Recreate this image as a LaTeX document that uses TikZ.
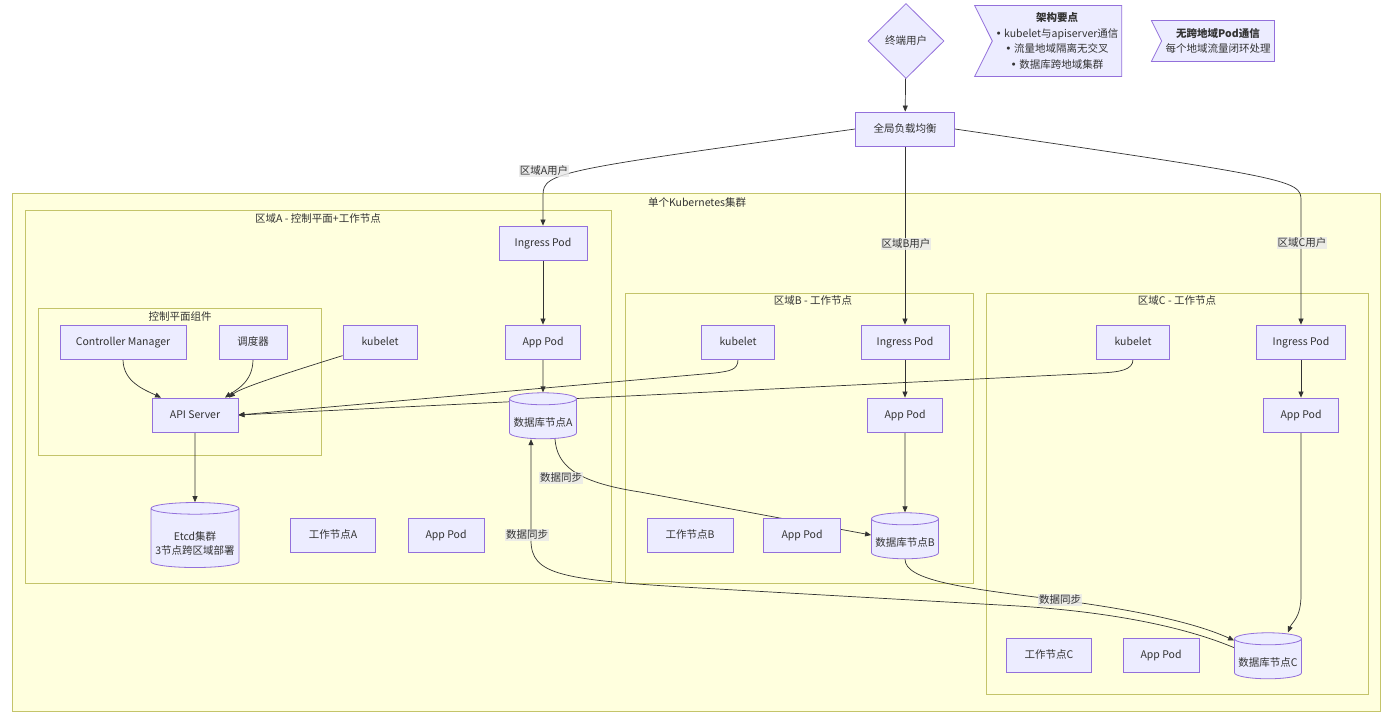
\documentclass[tikz,border=0pt]{standalone}
\usepackage{fontspec}
\setmainfont{Noto Sans CJK SC}
\newfontfamily\bulletfont{DejaVu Sans}
\newcommand{\notebullet}{{\bulletfont •}}
\usetikzlibrary{arrows.meta,shapes.geometric,shapes.symbols}
\definecolor{nodefill}{HTML}{ECECFF}
\definecolor{nodeline}{HTML}{9370DB}
\definecolor{clusterfill}{HTML}{FFFFDE}
\definecolor{clusterline}{HTML}{C4C46A}
\definecolor{inkgray}{HTML}{333333}
\definecolor{lblfill}{HTML}{E8E8E8}
\pgfdeclarelayer{bg}
\pgfdeclarelayer{edges}
\pgfsetlayers{bg,edges,main}

\begin{document}
\begin{tikzpicture}[x=1pt,y=-1pt,
  every node/.style={font=\fontsize{10.5}{13}\selectfont,text=inkgray},
  box/.style={rectangle,draw=nodeline,fill=nodefill,line width=0.8pt,minimum height=34pt,minimum width=#1,inner sep=2pt,text height=8pt,text depth=1pt},
  db/.style={cylinder,shape border rotate=90,aspect=0.19,draw=nodeline,fill=nodefill,line width=0.8pt,minimum width=67pt,minimum height=46pt,inner sep=2pt,align=center,text height=14.5pt,text depth=1pt},
  note/.style={signal,signal from=west,signal to=nowhere,signal pointer angle=127,draw=nodeline,fill=nodefill,line width=0.8pt,align=center,font=\fontsize{10.5}{15.5}\selectfont},
  cluster/.style={draw=clusterline,fill=clusterfill,line width=0.8pt},
  link/.style={draw=inkgray,line width=0.7pt,-{Triangle[length=6pt,width=5pt]}},
  lbl/.style={fill=lblfill,fill opacity=0.8,text opacity=1,inner sep=1pt}]
  \useasboundingbox (0,0) rectangle (1384,721);

  \begin{pgfonlayer}{bg}
    \fill[white] (0,0) rectangle (1384,721);
    \draw[cluster] (12,193) rectangle (1380,711);
    \draw[cluster] (25,210) rectangle (611,583);
    \draw[cluster] (38,308) rectangle (321,455);
    \draw[cluster] (625,293) rectangle (973,583);
    \draw[cluster] (986,293) rectangle (1368,694);
  \end{pgfonlayer}

  % subgraph titles
  \node (kubeT) at (697,202) {单个Kubernetes集群};
  \node (zoneAT) at (318,218) {区域A - 控制平面+工作节点};
  \node (cpT) at (180,316) {控制平面组件};
  \node (zoneBT) at (813,300) {区域B - 工作节点};
  \node (zoneCT) at (1177,300) {区域C - 工作节点};

  % entry
  \node[diamond,draw=nodeline,fill=nodefill,line width=0.8pt,minimum width=76pt,minimum height=75pt,inner sep=0pt] (user) at (906,41) {终端用户};
  \node[box=99pt] (lb) at (905,129) {全局负载均衡};
  \node[note,minimum width=138pt,minimum height=71pt] (keypts) at (1057,41) {\textbf{架构要点}\\\notebullet{} kubelet与apiserver通信\\\notebullet{} 流量地域隔离无交叉\\\notebullet{} 数据库跨地域集群};
  \node[note,minimum width=123pt,minimum height=41pt] (nocross) at (1218,41) {\textbf{无跨地域Pod通信}\\每个地域流量闭环处理};

  % zone A
  \node[box=88pt] (ingA) at (543,243) {Ingress Pod};
  \node[box=75pt] (appA) at (543,342) {App Pod};
  \node[db] (dbA) at (543,420) {数据库节点A};
  \node[box=126pt] (cm) at (123,342) {Controller Manager};
  \node[box=68pt] (sched) at (253,342) {调度器};
  \node[box=74pt] (kubA) at (380,342) {kubelet};
  \node[box=86pt] (api) at (195,415) {API Server};
  \node[db,aspect=0.14,minimum width=88pt,minimum height=65pt,text height=,text depth=,font=\fontsize{10.5}{14}\selectfont] (etcd) at (195,539) {\rule{0pt}{17pt}Etcd集群\\3节点跨区域部署};
  \node[box=85pt] (workA) at (333,535) {工作节点A};
  \node[box=76pt] (podA) at (446,535) {App Pod};

  % zone B
  \node[box=73pt] (kubB) at (738,342) {kubelet};
  \node[box=88pt] (ingB) at (905,342) {Ingress Pod};
  \node[box=75pt] (appB) at (905,415) {App Pod};
  \node[db] (dbB) at (905,540) {数据库节点B};
  \node[box=86pt] (workB) at (690,535) {工作节点B};
  \node[box=77pt] (podB) at (802,535) {App Pod};

  % zone C
  \node[box=73pt] (kubC) at (1133,342) {kubelet};
  \node[box=89pt] (ingC) at (1301,342) {Ingress Pod};
  \node[box=75pt] (appC) at (1301,415) {App Pod};
  \node[db] (dbC) at (1268,660) {数据库节点C};
  \node[box=85pt] (workC) at (1049,655) {工作节点C};
  \node[box=76pt] (podC) at (1161,655) {App Pod};

  \begin{pgfonlayer}{edges}
    \draw[link] (user) -- (lb);
    \draw[link] (lb.west) .. controls (560,170) and (543,172) .. (543,195) -- (ingA.north);
    \draw[link] (lb) -- (ingB);
    \draw[link] (lb.east) .. controls (1290,178) and (1301,180) .. (1301,200) -- (ingC.north);

    \draw[link] (ingA) -- (appA);
    \draw[link] (appA) -- (dbA);
    \draw[link] (ingB) -- (appB);
    \draw[link] (appB) -- (dbB);
    \draw[link] (ingC) -- (appC);
    \draw[link] (appC.south) -- (1301,595) .. controls (1301,618) and (1292,622) .. ([xshift=20]dbC.north);

    \draw[link] (cm.south) .. controls (123,382) and (145,390) .. ([xshift=-34]api.north);
    \draw[link] (sched.south) .. controls (253,382) and (236,390) .. ([xshift=30]api.north);
    \draw[link] (kubA.200) .. controls (290,372) and (240,388) .. ([xshift=34]api.north);
    \draw[link] (kubB.south) .. controls (738,370) and (730,371) .. (715,373) -- (api.east);
    \draw[link] (kubC.south) .. controls (1133,370) and (1120,372) .. (1100,373) -- (api.east);
    \draw[link] (api) -- (etcd);

    \draw[link] ([xshift=12]dbA.south) .. controls (557,465) and (575,482) .. (640,492) -- ([yshift=5]dbB.west);
    \draw[link] (dbB.south) .. controls (905,580) and (960,588) .. (1060,600) .. controls (1150,612) and (1200,625) .. (dbC.150);
    \draw[link] (dbC.160) .. controls (1180,625) and (1100,610) .. (1000,605) -- (700,588) .. controls (560,580) and (531,575) .. (531,540) -- ([xshift=-12]dbA.south);
  \end{pgfonlayer}

  % edge labels
  \node[lbl] (lblA) at (544,171) {区域A用户};
  \node[lbl] (lblB) at (906,244) {区域B用户};
  \node[lbl] (lblC) at (1302,243) {区域C用户};
  \node[lbl] (syncAB) at (561,478) {数据同步};
  \node[lbl] (syncCA) at (527,535) {数据同步};
  \node[lbl] (syncBC) at (1060,600) {数据同步};
\end{tikzpicture}
\end{document}
